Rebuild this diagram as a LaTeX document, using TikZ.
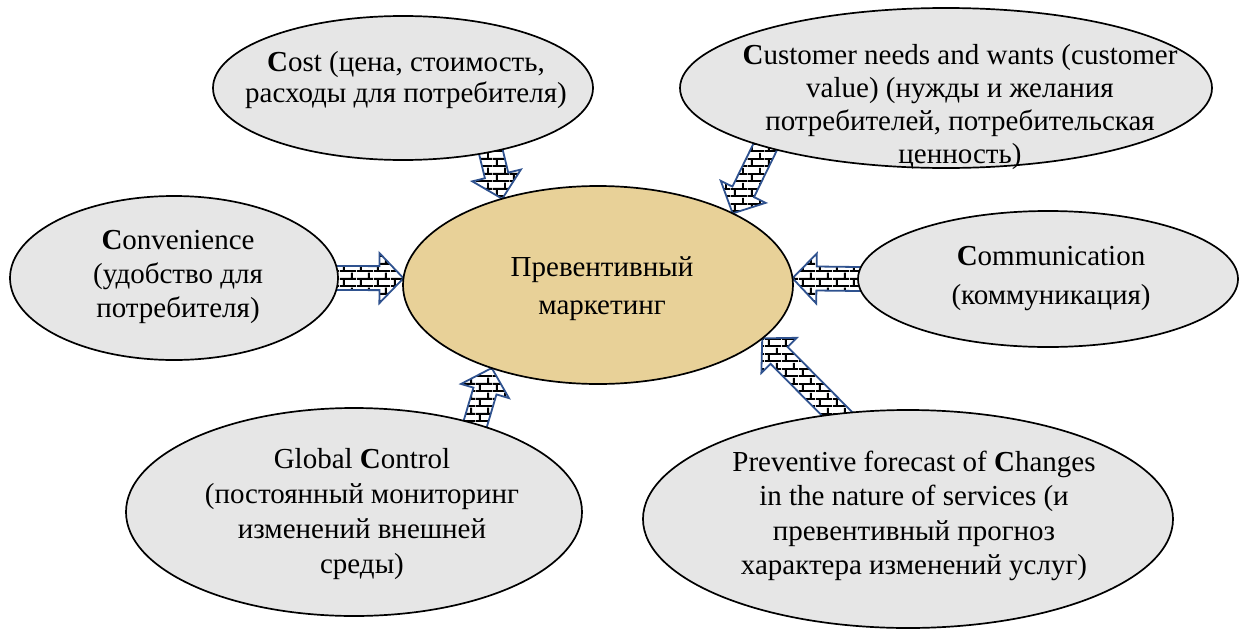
\documentclass[tikz,border=0pt]{standalone}
\usepackage{fontspec}
\setmainfont{Liberation Serif}
\usetikzlibrary{shapes.geometric,calc,backgrounds,patterns.meta}
\definecolor{ellgray}{RGB}{230,230,230}
\definecolor{papyrus}{RGB}{232,209,152}
\definecolor{arrblue}{RGB}{47,82,143}
\tikzdeclarepattern{
  name=mybricks,
  type=uncolored,
  bounding box={(0pt,0pt) and (17pt,15pt)},
  tile size={(17pt,15pt)},
  code={
    \draw[line width=2pt] (0pt,1pt) -- (17pt,1pt) (0pt,8.5pt) -- (17pt,8.5pt)
      (4pt,1pt) -- (4pt,8.5pt) (12.5pt,8.5pt) -- (12.5pt,15pt) (12.5pt,0pt) -- (12.5pt,1pt);
  }
}
\newcommand\brickarrow[2]{%
  \coordinate (bS) at (#1);
  \coordinate (bE) at (#2);
  \coordinate (bS0) at ($(bS)!-10pt!(bE)$);
  \coordinate (bH) at ($(bE)!24pt!(bS)$);
  \filldraw[brickarr] ($(bS0)!12pt!90:(bE)$) -- ($(bH)!12pt!-90:(bS)$) -- ($(bH)!25pt!-90:(bS)$) -- (bE)
    -- ($(bH)!25pt!90:(bS)$) -- ($(bH)!12pt!90:(bS)$) -- ($(bS0)!12pt!-90:(bE)$) -- cycle;
}
\tikzset{
  oval/.style={ellipse, draw=black, line width=1.7pt, fill=ellgray, inner sep=0pt, outer sep=0pt},
  label/.style={align=center, inner sep=0pt, text=black},
  brickarr/.style={draw=arrblue, line width=1.8pt, line join=miter, fill=white, pattern={mybricks}, pattern color=black}
}
\begin{document}
\begin{tikzpicture}[x=1pt, y=-1pt]
\useasboundingbox (0,0) rectangle (1245,632);
% ellipses
\node[oval, minimum width=380pt, minimum height=144pt] (cost) at (403,88) {};
\node[oval, minimum width=532pt, minimum height=160pt] (cust) at (946,88) {};
\node[oval, minimum width=328pt, minimum height=164pt] (conv) at (174,278) {};
\node[oval, fill=papyrus, minimum width=390pt, minimum height=198pt] (center) at (598,285) {};
\node[oval, minimum width=380pt, minimum height=136pt] (comm) at (1048,279) {};
\node[oval, minimum width=456pt, minimum height=208pt] (glob) at (354,512) {};
\node[oval, minimum width=530pt, minimum height=218pt] (prev) at (908,519) {};
% labels
\node[label, font=\fontsize{29}{31}\selectfont] (costt) at (406,80) {\textbf{C}ost (цена, стоимость,\\расходы для потребителя)};
\node[label, font=\fontsize{29}{33.3}\selectfont] (custt) at (960,107) {\textbf{C}ustomer needs and wants (customer\\value) (нужды и желания\\потребителей, потребительская\\ценность)};
\node[label, font=\fontsize{29}{34}\selectfont] (convt) at (178,277) {\textbf{C}onvenience\\(удобство для\\потребителя)};
\node[label, font=\fontsize{29}{38}\selectfont] (centert) at (602,289) {Превентивный\\маркетинг};
\node[label, font=\fontsize{29}{39}\selectfont] (commt) at (1051,279) {\textbf{C}ommunication\\(коммуникация)};
\node[label, font=\fontsize{29}{34.7}\selectfont] (globt) at (362,514) {Global \textbf{C}ontrol\\(постоянный мониторинг\\изменений внешней\\среды)};
\node[label, font=\fontsize{29}{34.3}\selectfont] (prevt) at (914,516) {Preventive forecast of \textbf{C}hanges\\in the nature of services (и\\превентивный прогноз\\характера изменений услуг)};
% arrows
\begin{scope}[on background layer]
\fill[white] (0,0) rectangle (1245,632);
\brickarrow{cost.-36.4}{center.138.4}
\brickarrow{cust.198.4}{center.28.4}
\brickarrow{conv.0}{center.178}
\brickarrow{comm.180}{center.2}
\brickarrow{glob.36.2}{center.218.2}
\brickarrow{prev.124.3}{center.-18.2}
\end{scope}
\end{tikzpicture}
\end{document}
